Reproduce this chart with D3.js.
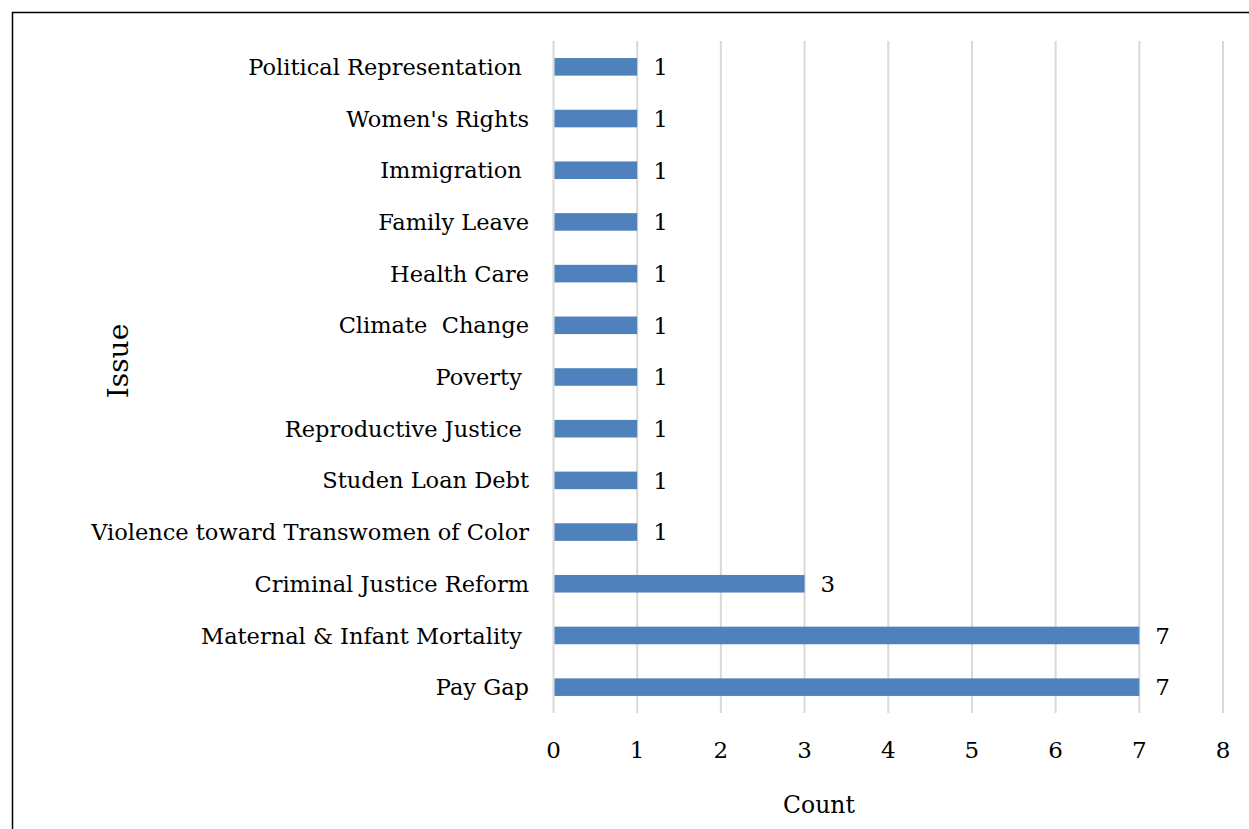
<!DOCTYPE html>
<html>
<head>
<meta charset="utf-8">
<script src="https://cdn.jsdelivr.net/npm/d3@7"></script>
<style>
  body { margin: 0; background: #fff; }
  svg text { font-family: "DejaVu Serif", "Liberation Serif", serif; fill: #000; white-space: pre; }
</style>
</head>
<body>
<svg id="chart" width="1249" height="829"></svg>
<script>
// issues as written in the source, top to bottom
const issues = ['Political Representation ', "Women's Rights", 'Immigration ', 'Family Leave', 'Health Care',
                'Climate  Change', 'Poverty ', 'Reproductive Justice ', 'Studen Loan Debt',
                'Violence toward Transwomen of Color', 'Criminal Justice Reform', 'Maternal & Infant Mortality ', 'Pay Gap']
const counts = [1, 1, 1, 1, 1, 1, 1, 1, 1, 1, 3, 7, 7]
const xTicks = [0, 1, 2, 3, 4, 5, 6, 7, 8]

const svg = d3.select('#chart')

// outer frame (runs past right/bottom edges of the picture)
svg.append('rect')
    .attr('x', 12.5).attr('y', 12.5)
    .attr('width', 1260).attr('height', 840)
    .attr('fill', 'none')
    .attr('stroke', '#000')
    .attr('stroke-width', 1.5)

const x = d3.scaleLinear().domain([0, 8]).range([553.5, 1223])
const y = d3.scaleBand().domain(issues).range([41, 713]).paddingInner(0.66).paddingOuter(0.33)

// gridlines
svg.append('g')
    .selectAll('line')
    .data(xTicks)
    .enter()
    .append('line')
    .attr('x1', (d) => x(d)).attr('x2', (d) => x(d))
    .attr('y1', 41).attr('y2', 713)
    .attr('stroke', '#d9d9d9')
    .attr('stroke-width', 2)

// bars
svg.append('g')
    .selectAll('rect')
    .data(issues)
    .enter()
    .append('rect')
    .attr('x', x(0) + 1)
    .attr('y', (d) => y(d))
    .attr('width', (d, i) => x(counts[i]) - x(0) - 1)
    .attr('height', y.bandwidth())
    .attr('fill', '#4f81bd')

// value labels
svg.append('g')
    .selectAll('text')
    .data(issues)
    .enter()
    .append('text')
    .attr('x', (d, i) => x(counts[i]) + 16)
    .attr('y', (d) => y(d) + y.bandwidth() / 2)
    .attr('dy', '0.36em')
    .attr('font-size', 23)
    .text((d, i) => counts[i])

// category labels
svg.append('g')
    .selectAll('text')
    .data(issues)
    .enter()
    .append('text')
    .attr('x', 529)
    .attr('y', (d) => y(d) + y.bandwidth() / 2)
    .attr('dy', '0.36em')
    .attr('text-anchor', 'end')
    .attr('font-size', 22.5)
    .text((d) => d)

// x tick labels
svg.append('g')
    .selectAll('text')
    .data(xTicks)
    .enter()
    .append('text')
    .attr('x', (d) => x(d))
    .attr('y', 750)
    .attr('dy', '0.36em')
    .attr('text-anchor', 'middle')
    .attr('font-size', 23)
    .text((d) => d)

// axis titles
svg.append('text')
    .attr('x', 819).attr('y', 805)
    .attr('dy', '0.36em')
    .attr('text-anchor', 'middle')
    .attr('font-size', 23.5)
    .text('Count')

svg.append('text')
    .attr('transform', 'translate(118,361) rotate(-90)')
    .attr('dy', '0.36em')
    .attr('text-anchor', 'middle')
    .attr('font-size', 28)
    .text('Issue')
</script>
</body>
</html>
